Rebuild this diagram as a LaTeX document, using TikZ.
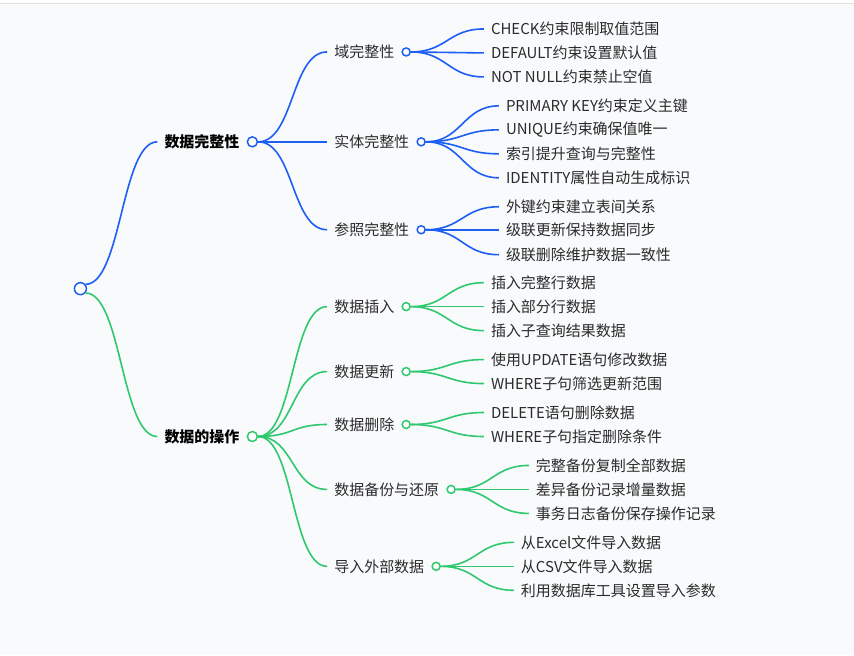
\documentclass[tikz,border=0pt]{standalone}
\usepackage{fontspec}
\setmainfont{Noto Sans CJK SC}
\usetikzlibrary{positioning}
\definecolor{MapBlue}{HTML}{1D5EF5}
\definecolor{MapGreen}{HTML}{30C86E}
\definecolor{MapBg}{HTML}{F8FAFC}
\definecolor{MapInk}{HTML}{2B2B2B}
\tikzset{
  dot/.style={circle,draw=#1,fill=white,line width=1.5pt,inner sep=0pt,minimum size=8pt},
  topic/.style={anchor=west,inner xsep=7pt,inner ysep=0pt,text=MapInk,font=\fontsize{15}{18}\selectfont},
  head/.style={topic,font=\fontsize{15}{18}\selectfont\bfseries,text=black},
  link/.style={line width=1.6pt}
}

\begin{document}
\begin{tikzpicture}[x=1pt,y=-1pt]
\fill[MapBg] (0,0) rectangle (854,656);
\fill[white] (0,0) rectangle (854,3);
\draw[gray!25,line width=1pt] (0,3.5)--(854,3.5);
\useasboundingbox (0,0) rectangle (854,656);
% root and the two main branches
\node[dot=MapBlue,minimum size=12pt] (root) at (80,289) {};
\node[head] (integ) at (157,142) {数据完整性};
\node[head] (oper) at (157,437) {数据的操作};
\node[dot=MapBlue,minimum size=10pt,right=0pt of integ] (integdot) {};
\node[dot=MapGreen,minimum size=10pt,right=0pt of oper] (operdot) {};
\draw[link,MapBlue] (root.40) .. controls +(36,0) and +(-36,0) .. (integ.west);
\draw[link,MapGreen] (root.-40) .. controls +(36,0) and +(-36,0) .. (oper.west);
% second level
\foreach \n/\y/\t/\c/\p in {dom/52/域完整性/MapBlue/integ,ent/142/实体完整性/MapBlue/integ,ref/230/参照完整性/MapBlue/integ,
  ins/307/数据插入/MapGreen/oper,upd/372/数据更新/MapGreen/oper,del/425/数据删除/MapGreen/oper,
  bak/490/数据备份与还原/MapGreen/oper,imp/567/导入外部数据/MapGreen/oper}{
  \node[topic] (\n) at (327,\y) {\t};
  \node[dot=\c,right=0pt of \n] (\n dot) {};
  \draw[link,\c] (\p dot.east) .. controls +(36,0) and +(-36,0) .. (\n.west);
}
% leaves
\foreach \p/\c/\y/\t [count=\i] in {
  dom/MapBlue/29/CHECK约束限制取值范围,dom/MapBlue/53/DEFAULT约束设置默认值,dom/MapBlue/77/NOT NULL约束禁止空值,
  ent/MapBlue/106/PRIMARY KEY约束定义主键,ent/MapBlue/130/UNIQUE约束确保值唯一,ent/MapBlue/154/索引提升查询与完整性,ent/MapBlue/178/IDENTITY属性自动生成标识,
  ref/MapBlue/207/外键约束建立表间关系,ref/MapBlue/230/级联更新保持数据同步,ref/MapBlue/255/级联删除维护数据一致性,
  ins/MapGreen/283/插入完整行数据,ins/MapGreen/307/插入部分行数据,ins/MapGreen/331/插入子查询结果数据,
  upd/MapGreen/360/使用UPDATE语句修改数据,upd/MapGreen/384/WHERE子句筛选更新范围,
  del/MapGreen/413/DELETE语句删除数据,del/MapGreen/437/WHERE子句指定删除条件,
  bak/MapGreen/466/完整备份复制全部数据,bak/MapGreen/490/差异备份记录增量数据,bak/MapGreen/514/事务日志备份保存操作记录,
  imp/MapGreen/543/从Excel文件导入数据,imp/MapGreen/567/从CSV文件导入数据,imp/MapGreen/591/利用数据库工具设置导入参数}{
  \node[topic] (leaf\i) at ([xshift=73pt]\p dot.east |- 0,\y) {\t};
  \draw[link,\c] (\p dot.east) .. controls +(36,0) and +(-36,0) .. (leaf\i.west);
}
\end{tikzpicture}
\end{document}
